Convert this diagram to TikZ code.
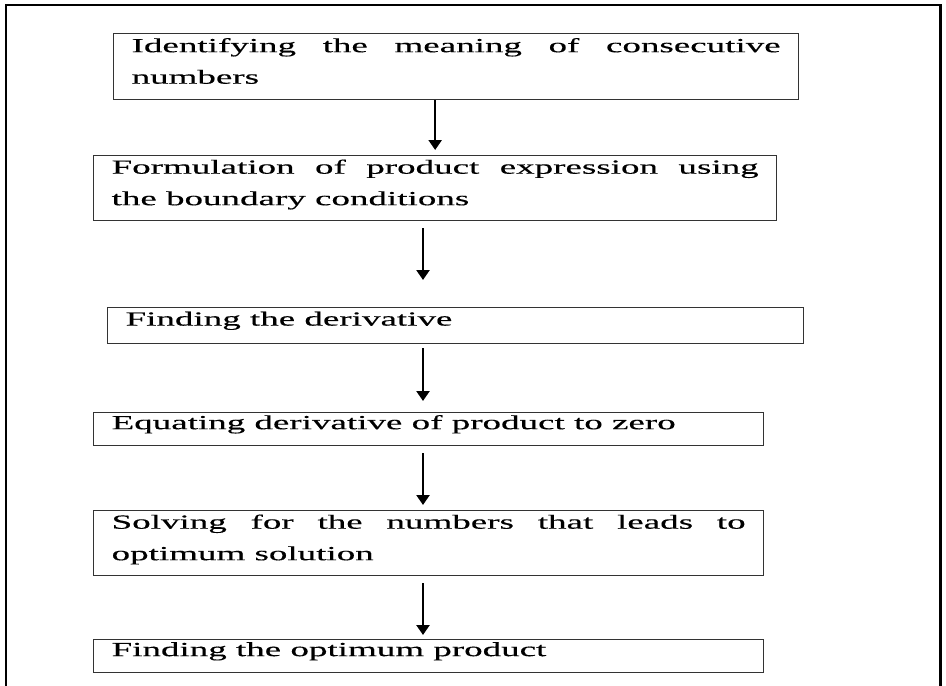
\documentclass[tikz,border=0pt]{standalone}
\usepackage{fontspec}
\newfontfamily\flowfont[FakeStretch=1.85,FakeBold=0.35]{Liberation Serif}
\usetikzlibrary{arrows.meta}

\begin{document}
\begin{tikzpicture}[x=1pt, y=-1pt,
stepbox/.style={draw=black!80, line width=1.3pt, anchor=north west, inner xsep=18pt, inner ysep=0pt, text depth=14pt, align=justify, font=\flowfont\fontsize{20}{31.5}\selectfont},
twoline/.style={text depth=43pt},
flowarrow/.style={line width=2.4pt, -{Triangle[width=13pt,length=10pt]}}
]
    \useasboundingbox (0,0) rectangle (946,686);
    \draw[line width=2pt] (6,686) -- (6,5) -- (940,5);
    \draw[line width=3pt] (940,4) -- (940,686);

    \node[stepbox, twoline, minimum width=685pt, text width=649pt, minimum height=66pt] (b1) at (113,33){Identifying the meaning of consecutive\linebreak numbers};
    \node[stepbox, twoline, minimum width=683pt, text width=647pt, minimum height=65pt] (b2) at (93,155){Formulation of product expression using\linebreak the boundary conditions};
    \node[stepbox, minimum width=696pt, text width=660pt, minimum height=36pt] (b3) at (107,307){Finding the derivative};
    \node[stepbox, minimum width=670pt, text width=634pt, minimum height=33pt] (b4) at (93,412){Equating derivative of product to zero};
    \node[stepbox, twoline, minimum width=670pt, text width=634pt, minimum height=65pt] (b5) at (93,510){Solving for the numbers that leads to\linebreak optimum solution};
    \node[stepbox, minimum width=670pt, text width=634pt, minimum height=33pt] (b6) at (93,639){Finding the optimum product};

    \coordinate (ax) at (423,0);
    \draw[flowarrow, shorten >=5pt] (b1.south -| b2.north) -- (b2.north);
    \draw[flowarrow, shorten <=7pt, shorten >=27pt] (b2.south -| ax) -- (b3.north -| ax);
    \draw[flowarrow, shorten <=4pt, shorten >=11pt] (b3.south -| ax) -- (b4.north -| ax);
    \draw[flowarrow, shorten <=7pt, shorten >=5pt] (b4.south -| ax) -- (b5.north -| ax);
    \draw[flowarrow, shorten <=7pt, shorten >=4pt] (b5.south -| ax) -- (b6.north -| ax);
\end{tikzpicture}
\end{document}
